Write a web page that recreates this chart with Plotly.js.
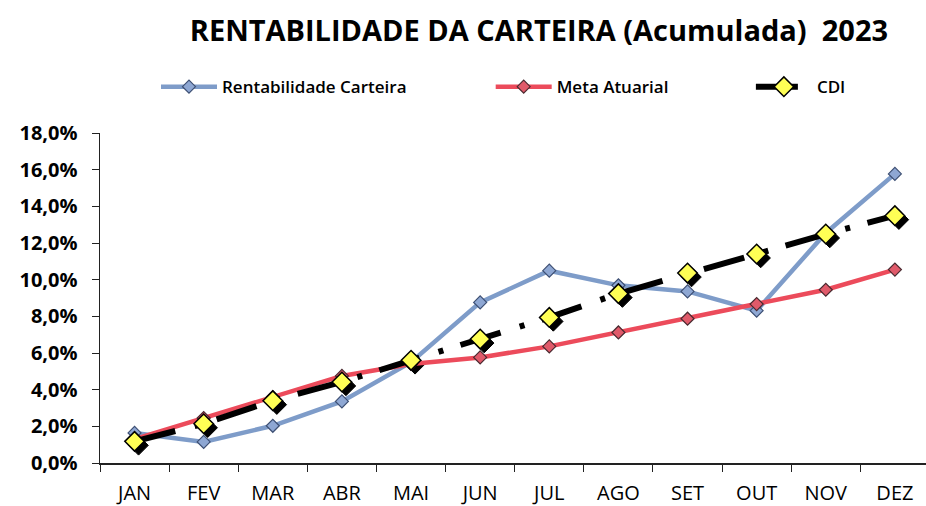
<!DOCTYPE html>
<html>
<head>
<meta charset="utf-8">
<script src="https://cdn.plot.ly/plotly-3.0.1.min.js"></script>
<style>html,body{margin:0;padding:0;background:#fff}#chart{width:926px;height:506px}</style>
</head>
<body>
<div id="chart"></div>
<script>
var months = ["JAN","FEV","MAR","ABR","MAI","JUN","JUL","AGO","SET","OUT","NOV","DEZ"];
var rentabilidade = [1.64, 1.15, 2.03, 3.36, 5.5, 8.76, 10.49, 9.69, 9.36, 8.31, 12.55, 15.77];
var metaAtuarial = [1.3, 2.45, 3.6, 4.75, 5.4, 5.76, 6.36, 7.12, 7.87, 8.67, 9.45, 10.55];
var cdi = [1.18, 2.14, 3.4, 4.42, 5.6, 6.76, 7.94, 9.24, 10.36, 11.4, 12.49, 13.49];
var yTicks = [0, 2, 4, 6, 8, 10, 12, 14, 16, 18];
var yTickText = yTicks.map(function (v) { return v.toFixed(1).replace('.', ',') + '%'; });

var xr = [-0.5, 11.45];
var yr = [0, 18];
var dx = 4 / 69.1, dy = 4 / 18.33;
var fam = 'Open Sans, Noto Sans, sans-serif';

var traces = [
  {x: months, y: cdi, xaxis: 'x', yaxis: 'y', mode: 'markers', showlegend: false, hoverinfo: 'skip',
   marker: {symbol: 'diamond', size: 15, color: '#000', line: {color: '#000', width: 1}}},
  {x: months, y: rentabilidade, xaxis: 'x2', yaxis: 'y2', name: 'Rentabilidade Carteira', mode: 'lines+markers',
   legend: 'legend',
   line: {color: '#7e9cc9', width: 4.5},
   marker: {symbol: 'diamond', size: 10, color: '#8ea7d3', line: {color: '#3d4f73', width: 1.2}}},
  {x: months, y: metaAtuarial, xaxis: 'x2', yaxis: 'y2', name: 'Meta Atuarial', mode: 'lines+markers',
   legend: 'legend2',
   line: {color: '#ec4b5b', width: 4.5},
   marker: {symbol: 'diamond', size: 10, color: '#e05a6a', line: {color: '#4a2a30', width: 1.2}}},
  {x: months, y: cdi, xaxis: 'x2', yaxis: 'y2', name: 'CDI', mode: 'lines+markers',
   legend: 'legend3',
   line: {color: '#000', width: 6, dash: '42px,20px,5px,18px'},
   marker: {symbol: 'diamond', size: 15, color: '#ffff55', line: {color: '#000', width: 1.5}}}
];

function leg(x) {
  return {orientation: 'h', x: x, xanchor: 'left', y: 1.139, yanchor: 'middle', itemwidth: 56,
          font: {size: 17, color: '#000', family: fam, weight: 600}, bgcolor: 'rgba(0,0,0,0)'};
}

var layout = {
  width: 926, height: 506,
  margin: {l: 100, r: 0, t: 133, b: 43},
  paper_bgcolor: '#fff', plot_bgcolor: '#fff',
  separators: ',.',
  font: {family: fam, color: '#000'},
  title: {text: '<b>RENTABILIDADE DA CARTEIRA (Acumulada)  2023</b>', x: 0.582, xanchor: 'center', y: 0.94, yanchor: 'middle',
          font: {size: 29, color: '#000', family: fam}},
  showlegend: true,
  legend: leg(0.0678),
  legend2: leg(0.473),
  legend3: leg(0.788),
  xaxis: {type: 'category', range: [xr[0] - dx, xr[1] - dx], visible: false, fixedrange: true},
  yaxis: {range: [yr[0] + dy, yr[1] + dy], visible: false, fixedrange: true},
  xaxis2: {type: 'category', overlaying: 'x', anchor: 'y2', side: 'bottom', range: xr,
           showline: true, linecolor: '#222', linewidth: 1.5, ticks: 'outside', ticklen: 7, tickcolor: '#222',
           tickson: 'boundaries', showgrid: false, zeroline: false, ticklabelstandoff: 11,
           tickfont: {size: 20, color: '#000', family: fam}},
  yaxis2: {overlaying: 'y', anchor: 'x2', side: 'left', range: yr, tickvals: yTicks, ticktext: yTickText,
           showline: true, linecolor: '#222', linewidth: 1.5, ticks: 'outside', ticklen: 7, tickcolor: '#222',
           showgrid: false, zeroline: false, ticklabelstandoff: 10,
           tickfont: {size: 20, color: '#000', family: fam, weight: 'bold'}}
};

Plotly.newPlot('chart', traces, layout, {displayModeBar: false, staticPlot: true});
</script>
</body>
</html>
